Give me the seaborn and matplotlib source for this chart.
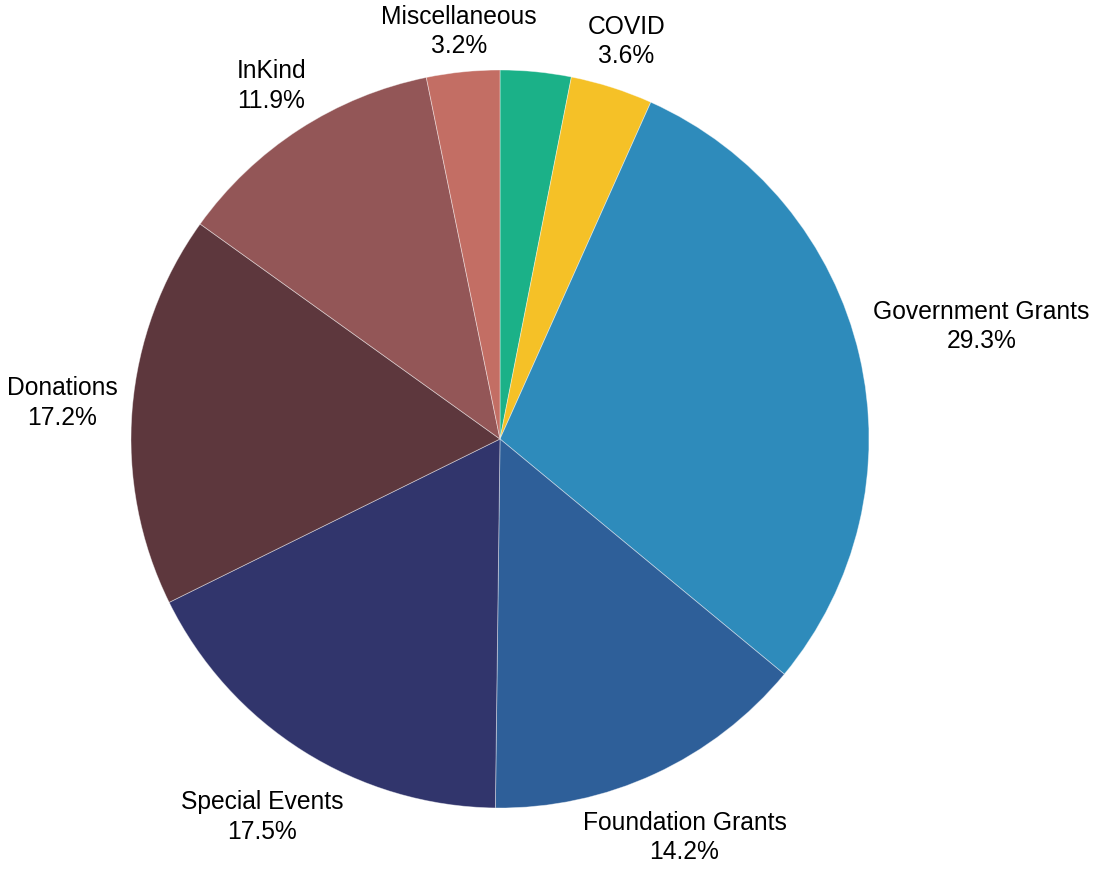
import numpy as np
import matplotlib
matplotlib.use("Agg")
import matplotlib.pyplot as plt
import seaborn as sns

# ---- data ----
categories = ["Other", "COVID", "Government Grants", "Foundation Grants",
              "Special Events", "Donations", "InKind", "Miscellaneous"]
shares = [3.1, 3.6, 29.3, 14.2, 17.5, 17.2, 11.9, 3.2]
show_label = [False, True, True, True, True, True, True, True]

# ---- style ----
colors = ["#1bb188", "#f5c127", "#2e8bbb", "#2e5f99",
          "#31356c", "#5d373d", "#935657", "#c36e64"]
label_r = [1.12, 1.13, 1.34, 1.19, 1.21, 1.19, 1.14, 1.11]

sns.set_theme(style="white")
plt.rcParams["font.family"] = ["Liberation Sans", "DejaVu Sans"]

W, H, dpi = 1093, 877, 100
fig = plt.figure(figsize=(W / dpi, H / dpi), dpi=dpi)
ax = fig.add_axes([0, 0, 1, 1])

cx, cy, R = 500, 439, 369

wedges, _ = ax.pie(shares, colors=colors, startangle=90, counterclock=False,
                   radius=1.0, center=(0, 0),
                   wedgeprops=dict(edgecolor=(1, 1, 1, 0.45), linewidth=0.6))
ax.set_aspect("auto")
ax.set_xlim(-cx / R, (W - cx) / R)
ax.set_ylim(-(H - cy) / R, cy / R)
ax.axis("off")

total = sum(shares)
for w, cat, s, show, r in zip(wedges, categories, shares, show_label, label_r):
    if not show:
        continue
    mid = np.deg2rad((w.theta1 + w.theta2) / 2)
    x, y = r * np.cos(mid), r * np.sin(mid)
    ax.text(x, y, f"{cat}\n{s / total * 100:.1f}%", ha="center", va="center",
            fontsize=17.7, color="black", linespacing=1.3)

fig.savefig("out.png", dpi=dpi)
